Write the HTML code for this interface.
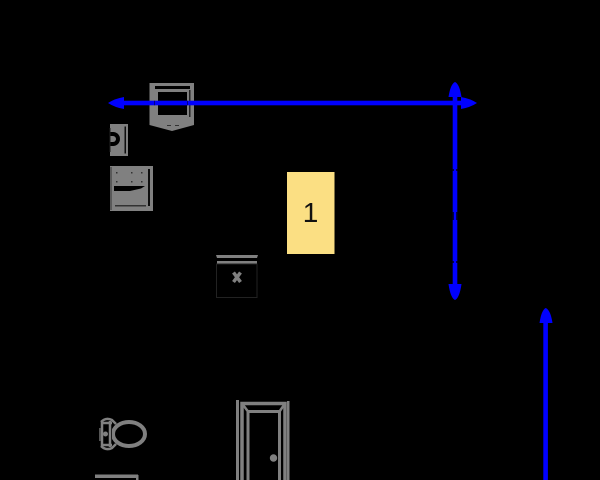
<!DOCTYPE html>
<html><head><meta charset="utf-8"><style>
html,body{margin:0;padding:0;background:#000;width:600px;height:480px;overflow:hidden}
svg{display:block}
</style></head><body>
<svg width="600" height="480" viewBox="0 0 600 480" xmlns="http://www.w3.org/2000/svg">
<defs><filter id="b" x="-5%" y="-5%" width="110%" height="110%"><feGaussianBlur stdDeviation="0.35"/></filter></defs>
<rect width="600" height="480" fill="#000"/>
<g filter="url(#b)">
<!-- top unit -->
<path d="M149.500 83H194V125L172 131L149.500 125Z" fill="#808080"/>
<rect x="155" y="86" width="35" height="3" fill="#000"/>
<rect x="158" y="92" width="29" height="23" fill="#000"/>
<rect x="189" y="90" width="1.500" height="27" fill="#222"/>
<rect x="167" y="125" width="4" height="1" fill="#333"/><rect x="175" y="125" width="4" height="1" fill="#333"/>
<!-- small unit -->
<rect x="110" y="124" width="18" height="32" fill="#808080"/>
<rect x="124.500" y="126.500" width="1.500" height="27" fill="#111"/>
<path d="M110 132H113A7 7 0 0 1 113 146H110Z" fill="#000"/>
<path d="M110 136H113A3 3 0 0 1 113 142H110Z" fill="#808080"/>
<rect x="109.500" y="128" width="1" height="24" fill="#222"/>
<!-- stove -->
<rect x="110" y="166" width="43" height="45" fill="#808080"/>
<path d="M114 186H145L141 188.500L130 191H114Z" fill="#000"/>
<rect x="148" y="169" width="2" height="37" fill="#111"/>
<rect x="115" y="205" width="31" height="1.500" fill="#333"/>
<rect x="110.500" y="167" width="1" height="43" fill="#333"/>
<g fill="#333"><rect x="116" y="172" width="1.500" height="1.500"/><rect x="131" y="172" width="1.500" height="1.500"/><rect x="141" y="172" width="1.500" height="1.500"/><rect x="116" y="181" width="1.500" height="1.500"/><rect x="131" y="181" width="1.500" height="1.500"/><rect x="141" y="181" width="1.500" height="1.500"/></g>
<!-- bin -->
<path d="M216 255H258L257 258H217Z" fill="#808080"/>
<rect x="217" y="261" width="40" height="3" fill="#808080"/>
<rect x="216.500" y="264" width="40.500" height="33.500" fill="none" stroke="#222" stroke-width="1"/>
<path d="M233.500 272.500L240.500 282M240.500 272.500L233.500 282" stroke="#808080" stroke-width="3.500"/>
<!-- toilet -->
<ellipse cx="129" cy="434" rx="16" ry="12" fill="none" stroke="#808080" stroke-width="4"/>
<rect x="100" y="420" width="12" height="28" fill="#000"/>
<path d="M101 422Q106 417 112 420L116 424M101 446Q106 451 112 448L116 444M102 422V446M110 421V447M102 423H112M102 445H112" fill="none" stroke="#808080" stroke-width="2.500"/>
<rect x="99" y="428" width="2" height="13" fill="#555"/>
<circle cx="105.500" cy="434" r="2.500" fill="#808080"/>
<!-- bottom-left strip -->
<rect x="95" y="474.500" width="43" height="3.500" fill="#808080"/>
<rect x="136" y="475" width="2.500" height="5" fill="#808080"/>
<!-- door -->
<rect x="236" y="400" width="3" height="80" fill="#808080"/>
<rect x="287" y="401" width="2.500" height="79" fill="#808080"/>
<path d="M242 480V403.500H285V480" fill="none" stroke="#808080" stroke-width="3.500"/>
<path d="M248 480V411.500H279.500V480" fill="none" stroke="#808080" stroke-width="3"/>
<path d="M242 403.500L248 411.500M285 403.500L279.500 411.500" stroke="#808080" stroke-width="2.500"/>
<circle cx="273.500" cy="458" r="3.700" fill="#808080"/>
<!-- blue arrows -->
<g fill="#0000ff">
<rect x="120" y="100.700" width="345" height="4.600"/>
<path d="M108 103Q115 98.500 124 97V109Q115 107.500 108 103Z"/>
<path d="M477 103Q470 98.500 461 97V109Q470 107.500 477 103Z"/>
<rect x="452.700" y="92" width="4.600" height="198"/>
<path d="M455 82Q459.500 84 461.500 97H448.500Q450.500 84 455 82Z"/>
<path d="M455 300Q459.500 298 461.500 284H448.500Q450.500 298 455 300Z"/>
<rect x="543.300" y="320" width="4.600" height="160"/>
<path d="M545.700 308Q550.500 310 552.500 323H539.500Q541.500 310 545.700 308Z"/>
</g>
<g fill="#000">
<rect x="452.700" y="169" width="1" height="2"/><rect x="456.300" y="169" width="1" height="2"/>
<rect x="452.700" y="212" width="1" height="8"/><rect x="456.300" y="212" width="1" height="8"/>
<rect x="452.700" y="261" width="1" height="2"/><rect x="456.300" y="261" width="1" height="2"/>
</g>
<rect x="154" y="100.700" width="1" height="4.600" fill="#00008a"/>
<rect x="187" y="100.700" width="1" height="4.600" fill="#00008a"/>
</g>
<!-- yellow box -->
<rect x="287" y="172" width="47.500" height="82" fill="#fbdf83"/>
<text x="310.500" y="222" font-family="'Liberation Sans',sans-serif" font-size="28" text-anchor="middle" fill="#111">1</text>
</svg>
</body></html>
